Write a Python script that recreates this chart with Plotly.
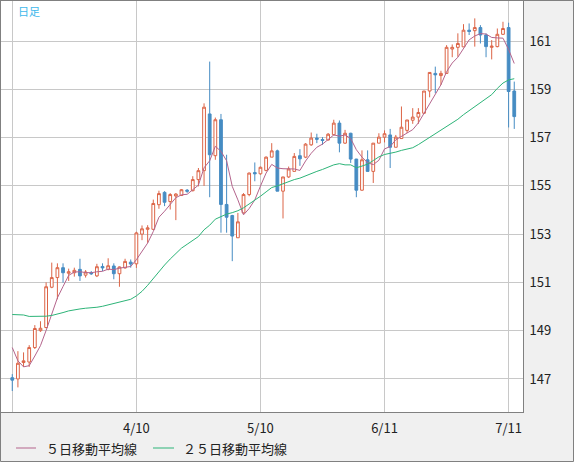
import pandas as pd
import plotly.graph_objects as go

# daily bars, 2024-03-11 .. 2024-07-12 (weekdays)
dates = [f'{d.month}/{d.day}' for d in pd.bdate_range('2024-03-11', '2024-07-12')]

opens = [147.05, 147.0, 147.68, 147.7, 148.3, 149.0, 149.13, 150.8, 151.2, 151.61,
         151.38, 151.4, 151.54, 151.3, 151.4, 151.27, 151.66, 151.54, 151.68, 151.36,
         151.6, 151.84, 151.77, 153.0, 153.2, 153.2, 154.22, 154.73, 154.35, 154.58,
         154.6, 154.82, 154.8, 155.26, 155.63, 157.98, 156.25, 157.74, 154.23, 153.77,
         152.85, 153.88, 154.64, 155.55, 155.5, 155.64, 156.19, 156.45, 154.78, 155.37,
         155.6, 156.25, 156.19, 156.7, 156.98, 156.92, 156.9, 157.12, 157.6, 156.77,
         157.18, 156.11, 154.82, 156.08, 155.6, 156.77, 157.02, 157.11, 156.6, 156.96,
         157.3, 157.72, 157.85, 158.01, 158.93, 159.66, 159.57, 159.66, 160.67, 160.74,
         160.76, 161.45, 161.43, 161.56, 161.25, 160.74, 160.77, 161.28, 161.56, 158.93]
highs = [147.2, 148.15, 148.1, 148.4, 149.23, 149.39, 151.0, 151.82, 151.79, 151.79,
         151.57, 151.61, 151.98, 151.51, 151.47, 151.77, 151.79, 152.0, 151.79, 151.66,
         151.98, 151.95, 153.1, 153.36, 153.37, 154.43, 154.8, 154.78, 154.7, 154.7,
         154.87, 154.87, 155.4, 155.74, 158.42, 160.15, 157.83, 157.98, 156.29, 153.8,
         153.88, 154.7, 155.55, 155.97, 155.8, 156.22, 156.77, 156.5, 155.37, 155.8,
         156.36, 156.52, 156.77, 157.21, 157.16, 157.02, 157.19, 157.74, 157.71, 157.32,
         157.2, 156.12, 156.47, 156.47, 156.77, 157.18, 157.3, 157.36, 157.11, 158.29,
         157.73, 158.22, 158.22, 158.93, 159.7, 159.94, 159.77, 160.83, 160.86, 161.32,
         161.7, 161.73, 161.94, 161.66, 161.32, 161.04, 161.52, 161.8, 161.76, 159.32]
lows = [146.5, 146.65, 147.5, 147.5, 148.24, 148.95, 149.1, 150.76, 150.3, 150.99,
        151.06, 151.24, 151.06, 151.2, 151.31, 151.22, 151.47, 151.5, 151.13, 150.82,
        151.57, 151.61, 151.6, 152.75, 152.64, 153.18, 154.05, 154.16, 154.02, 153.58,
        154.58, 154.71, 154.77, 154.98, 155.0, 154.53, 156.08, 153.06, 153.06, 151.88,
        152.85, 153.85, 154.57, 155.19, 155.46, 155.6, 156.19, 154.78, 153.65, 155.33,
        155.6, 155.83, 156.15, 156.66, 156.77, 156.7, 156.88, 157.09, 156.39, 156.74,
        155.95, 154.53, 154.8, 155.6, 155.12, 156.77, 156.8, 155.74, 156.6, 156.96,
        157.19, 157.57, 157.57, 157.98, 158.67, 158.84, 159.18, 159.64, 160.33, 160.35,
        160.76, 161.25, 160.77, 160.9, 160.33, 160.24, 160.74, 161.25, 157.42, 157.36]
closes = [146.95, 147.65, 147.75, 148.3, 149.09, 149.1, 150.82, 151.2, 151.61, 151.4,
          151.44, 151.5, 151.27, 151.43, 151.36, 151.65, 151.6, 151.69, 151.36, 151.64,
          151.87, 151.76, 153.05, 153.22, 153.26, 154.27, 154.68, 154.32, 154.64, 154.66,
          154.84, 154.78, 155.26, 155.63, 158.26, 156.29, 157.74, 154.23, 153.7, 152.92,
          153.51, 154.64, 155.53, 155.5, 155.77, 156.19, 156.45, 154.78, 155.37, 155.7,
          156.22, 156.12, 156.73, 156.98, 156.93, 156.88, 157.14, 157.6, 156.77, 157.18,
          156.11, 154.82, 156.08, 155.6, 156.77, 157.02, 157.16, 156.6, 157.02, 157.43,
          157.73, 157.85, 158.04, 158.93, 159.7, 159.6, 159.66, 160.74, 160.74, 160.9,
          161.45, 161.4, 161.56, 161.25, 160.77, 160.79, 161.28, 161.52, 158.91, 157.87]

ma5 = [148.3, 147.75, 147.5, 147.55, 147.95, 148.38, 149.01, 149.70, 150.36, 150.83,
       151.29, 151.43, 151.44, 151.41, 151.40, 151.44, 151.46, 151.55, 151.53, 151.59,
       151.63, 151.66, 151.94, 152.31, 152.63, 153.11, 153.70, 153.95, 154.23, 154.51,
       154.63, 154.65, 154.84, 155.03, 155.75, 156.04, 156.64, 156.43, 156.04, 154.98,
       154.42, 153.80, 154.06, 154.42, 154.99, 155.53, 155.89, 155.74, 155.71, 155.70,
       155.70, 155.64, 156.03, 156.35, 156.60, 156.73, 156.93, 157.11, 157.06, 157.11,
       156.96, 156.50, 156.19, 155.96, 155.88, 156.06, 156.53, 156.63, 156.91, 157.05,
       157.19, 157.33, 157.61, 158.00, 158.45, 158.82, 159.19, 159.73, 160.09, 160.33,
       160.70, 161.05, 161.21, 161.31, 161.29, 161.15, 161.13, 161.12, 160.65, 160.07]
ma25 = [149.67, 149.67, 149.65, 149.59, 149.59, 149.59, 149.60, 149.63, 149.68, 149.75,
        149.82, 149.87, 149.90, 149.93, 149.94, 149.97, 150.01, 150.07, 150.12, 150.16,
        150.22, 150.30, 150.44, 150.63, 150.88, 151.17, 151.45, 151.72, 151.97, 152.19,
        152.42, 152.58, 152.74, 152.90, 153.18, 153.37, 153.62, 153.74, 153.83, 153.89,
        153.97, 154.09, 154.24, 154.41, 154.57, 154.75, 154.93, 155.00, 155.09, 155.19,
        155.26, 155.32, 155.42, 155.51, 155.60, 155.68, 155.78, 155.87, 155.92, 155.87,
        155.87, 155.75, 155.82, 155.90, 156.05, 156.20, 156.30, 156.34, 156.40, 156.47,
        156.53, 156.58, 156.71, 156.86, 157.02, 157.15, 157.29, 157.45, 157.60, 157.76,
        157.95, 158.12, 158.27, 158.45, 158.60, 158.78, 159.04, 159.26, 159.39, 159.44]

tick_dates = ['3/11', '4/10', '5/10', '6/11', '7/11']
tick_text = ['', '4/10', '5/10', '6/11', '7/11']
y_ticks = [147, 149, 151, 153, 155, 157, 159, 161]

up_col = '#dc6446'
dn_col = '#468cc3'
ma5_col = '#b4648c'
ma25_col = '#2db478'
FONT = 'Noto Sans CJK JP'

fig = go.Figure()
fig.add_trace(go.Candlestick(
    x=dates, open=opens, high=highs, low=lows, close=closes,
    increasing=dict(line=dict(color=up_col, width=1), fillcolor='white'),
    decreasing=dict(line=dict(color=dn_col, width=1), fillcolor=dn_col),
    showlegend=False))
fig.add_trace(go.Scatter(x=dates, y=ma5, mode='lines', name='５日移動平均線',
                         line=dict(color=ma5_col, width=1), showlegend=False))
fig.add_trace(go.Scatter(x=dates, y=ma25, mode='lines', name='２５日移動平均線',
                         line=dict(color=ma25_col, width=1), showlegend=False))

# px -> paper helpers (plot area is x 1..523, y 1..412)
def px(x):
    return (x - 1) / 522

def py(y):
    return (412 - y) / 411

shapes = [
    dict(type='rect', xref='paper', yref='paper', x0=px(0.5), x1=px(573.5),
         y0=py(461.5), y1=py(0.5), line=dict(color='#808080', width=1)),
    dict(type='line', xref='paper', yref='paper', x0=px(16), x1=px(36),
         y0=py(448), y1=py(448), line=dict(color=ma5_col, width=1)),
    dict(type='line', xref='paper', yref='paper', x0=px(153), x1=px(174),
         y0=py(448), y1=py(448), line=dict(color=ma25_col, width=1)),
]
annotations = [
    dict(text='日足', xref='paper', yref='paper', x=px(15.5), y=py(10.5),
         xanchor='left', yanchor='middle', showarrow=False,
         font=dict(family=FONT, size=11, color='#40b8ec')),
    dict(text='５日移動平均線', xref='paper', yref='paper', x=px(44), y=py(448.5),
         xanchor='left', yanchor='middle', showarrow=False,
         font=dict(family=FONT, size=13, color='#222222')),
    dict(text='２５日移動平均線', xref='paper', yref='paper', x=px(181), y=py(448.5),
         xanchor='left', yanchor='middle', showarrow=False,
         font=dict(family=FONT, size=13, color='#222222')),
]

fig.update_layout(
    width=574, height=462,
    margin=dict(l=1, r=51, t=1, b=50, autoexpand=False),
    paper_bgcolor='#f0f0f0', plot_bgcolor='white',
    font=dict(family=FONT, size=13, color='#222222'),
    shapes=shapes, annotations=annotations,
    hovermode='x',
)
fig.update_xaxes(
    type='category', range=[-2.0, 90.55], rangeslider_visible=False,
    tickmode='array', tickvals=tick_dates, ticktext=tick_text,
    showgrid=True, gridcolor='#c8c8c8', gridwidth=1, ticks='',
    showline=True, mirror=True, linecolor='#808080', linewidth=1,
    ticklabelstandoff=4, zeroline=False,
)
fig.update_yaxes(
    side='right', range=[145.63, 162.66],
    tickmode='array', tickvals=y_ticks,
    showgrid=True, gridcolor='#c8c8c8', gridwidth=1, ticks='',
    showline=True, mirror=True, linecolor='#808080', linewidth=1,
    ticklabelstandoff=3, zeroline=False,
)

# the page's default body margin would push the chart 8px in
fig.write_html('out.html', config={'displayModeBar': False},
               post_script="document.body.style.margin='0';")
